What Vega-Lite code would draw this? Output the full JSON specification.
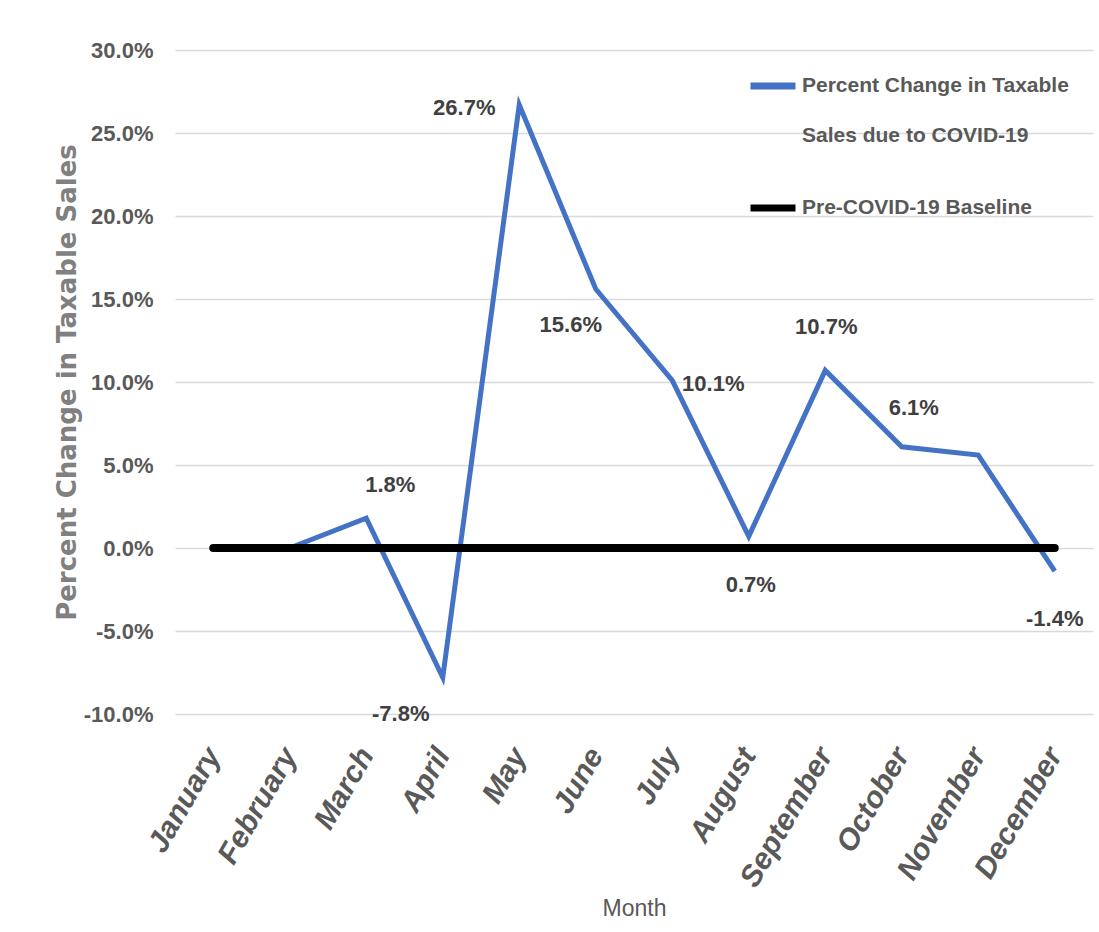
{
  "$schema": "https://vega.github.io/schema/vega-lite/v6.json",
  "autosize": {"type": "none"},
  "width": 918,
  "height": 664,
  "padding": {"left": 175, "top": 50, "right": 6, "bottom": 218},
  "background": "#ffffff",
  "config": {
    "view": {"stroke": null},
    "font": "Liberation Sans, Arial, sans-serif",
    "locale": {
      "number": {"decimal": ".", "thousands": ",", "grouping": [3], "currency": ["$", ""], "minus": "-"}
    }
  },
  "data": {
    "values": [
      {"month": "January", "series": "Pre-COVID-19 Baseline", "value": 0},
      {"month": "February", "series": "Pre-COVID-19 Baseline", "value": 0},
      {"month": "March", "series": "Pre-COVID-19 Baseline", "value": 0},
      {"month": "April", "series": "Pre-COVID-19 Baseline", "value": 0},
      {"month": "May", "series": "Pre-COVID-19 Baseline", "value": 0},
      {"month": "June", "series": "Pre-COVID-19 Baseline", "value": 0},
      {"month": "July", "series": "Pre-COVID-19 Baseline", "value": 0},
      {"month": "August", "series": "Pre-COVID-19 Baseline", "value": 0},
      {"month": "September", "series": "Pre-COVID-19 Baseline", "value": 0},
      {"month": "October", "series": "Pre-COVID-19 Baseline", "value": 0},
      {"month": "November", "series": "Pre-COVID-19 Baseline", "value": 0},
      {"month": "December", "series": "Pre-COVID-19 Baseline", "value": 0},
      {"month": "February", "series": "Percent Change in Taxable Sales due to COVID-19", "value": 0},
      {"month": "March", "series": "Percent Change in Taxable Sales due to COVID-19", "value": 0.018},
      {"month": "April", "series": "Percent Change in Taxable Sales due to COVID-19", "value": -0.078},
      {"month": "May", "series": "Percent Change in Taxable Sales due to COVID-19", "value": 0.267},
      {"month": "June", "series": "Percent Change in Taxable Sales due to COVID-19", "value": 0.156},
      {"month": "July", "series": "Percent Change in Taxable Sales due to COVID-19", "value": 0.101},
      {"month": "August", "series": "Percent Change in Taxable Sales due to COVID-19", "value": 0.007},
      {"month": "September", "series": "Percent Change in Taxable Sales due to COVID-19", "value": 0.107},
      {"month": "October", "series": "Percent Change in Taxable Sales due to COVID-19", "value": 0.061},
      {"month": "November", "series": "Percent Change in Taxable Sales due to COVID-19", "value": 0.056},
      {"month": "December", "series": "Percent Change in Taxable Sales due to COVID-19", "value": -0.014}
    ]
  },
  "encoding": {
    "x": {
      "field": "month",
      "type": "ordinal",
      "sort": ["January", "February", "March", "April", "May", "June", "July", "August", "September", "October", "November", "December"],
      "scale": {"type": "point", "padding": 0.5},
      "axis": {
        "title": "Month",
        "titleFont": "Liberation Sans, Arial, sans-serif",
        "titleFontSize": 23,
        "titleFontWeight": "normal",
        "titleColor": "#595959",
        "titlePadding": 6,
        "labelAngle": -60,
        "labelAlign": "right",
        "labelBaseline": "middle",
        "labelPadding": 36,
        "labelFont": "Liberation Sans, Arial, sans-serif",
        "labelFontSize": 30,
        "labelFontStyle": "italic",
        "labelFontWeight": "bold",
        "labelColor": "#595959",
        "labelLimit": 300,
        "ticks": false,
        "domain": false,
        "grid": false
      }
    },
    "y": {
      "field": "value",
      "type": "quantitative",
      "scale": {"domain": [-0.1, 0.3], "nice": false, "zero": false},
      "axis": {
        "title": "Percent Change in Taxable Sales",
        "titleFont": "DejaVu Sans, sans-serif",
        "titleFontSize": 26,
        "titleFontWeight": "bold",
        "titleColor": "#808080",
        "titlePadding": 3,
        "values": [-0.1, -0.05, 0, 0.05, 0.1, 0.15, 0.2, 0.25, 0.3],
        "format": ".1%",
        "labelFont": "Liberation Sans, Arial, sans-serif",
        "labelFontSize": 22,
        "labelFontWeight": "bold",
        "labelColor": "#595959",
        "labelPadding": 22,
        "ticks": false,
        "domain": false,
        "grid": true,
        "gridColor": "#d9d9d9",
        "gridWidth": 1.5
      }
    }
  },
  "layer": [
    {
      "transform": [{"filter": "datum.series === 'Percent Change in Taxable Sales due to COVID-19'"}],
      "mark": {"type": "line", "strokeWidth": 5, "strokeJoin": "miter"},
      "encoding": {
        "color": {
          "field": "series",
          "type": "nominal",
          "scale": {
            "domain": ["Percent Change in Taxable Sales due to COVID-19", "Pre-COVID-19 Baseline"],
            "range": ["#4472C4", "#000000"]
          },
          "legend": {
            "title": null,
            "orient": "none",
            "legendX": 572,
            "legendY": 10,
            "symbolType": "stroke",
            "symbolSize": 2025,
            "symbolStrokeWidth": 7,
            "labelFont": "Liberation Sans, Arial, sans-serif",
            "labelFontSize": 21,
            "labelFontWeight": "bold",
            "labelColor": "#595959",
            "labelLimit": 400,
            "labelOffset": 3,
            "labelBaseline": "middle",
            "rowPadding": 36,
            "labelExpr": "datum.label === 'Percent Change in Taxable Sales due to COVID-19' ? ['Percent Change in Taxable', 'Sales due to COVID-19'] : datum.label",
            "encode": {"labels": {"update": {"lineHeight": {"value": 50}}}}
          }
        }
      }
    },
    {
      "transform": [{"filter": "datum.series === 'Pre-COVID-19 Baseline'"}],
      "mark": {"type": "line", "strokeWidth": 8, "strokeCap": "round"},
      "encoding": {"color": {"field": "series", "type": "nominal"}}
    },
    {
      "transform": [{"filter": "datum.series !== 'Pre-COVID-19 Baseline' && datum.month === 'March'"}],
      "mark": {"type": "text", "dx": 24, "dy": -33, "fontSize": 22, "fontWeight": "bold", "color": "#404040"},
      "encoding": {"text": {"field": "value", "format": ".1%"}}
    },
    {
      "transform": [{"filter": "datum.series !== 'Pre-COVID-19 Baseline' && datum.month === 'April'"}],
      "mark": {"type": "text", "dx": -42, "dy": 37, "fontSize": 22, "fontWeight": "bold", "color": "#404040"},
      "encoding": {"text": {"field": "value", "format": ".1%"}}
    },
    {
      "transform": [{"filter": "datum.series !== 'Pre-COVID-19 Baseline' && datum.month === 'May'"}],
      "mark": {"type": "text", "dx": -55, "dy": 3, "fontSize": 22, "fontWeight": "bold", "color": "#404040"},
      "encoding": {"text": {"field": "value", "format": ".1%"}}
    },
    {
      "transform": [{"filter": "datum.series !== 'Pre-COVID-19 Baseline' && datum.month === 'June'"}],
      "mark": {"type": "text", "dx": -25, "dy": 36, "fontSize": 22, "fontWeight": "bold", "color": "#404040"},
      "encoding": {"text": {"field": "value", "format": ".1%"}}
    },
    {
      "transform": [{"filter": "datum.series !== 'Pre-COVID-19 Baseline' && datum.month === 'July'"}],
      "mark": {"type": "text", "dx": 41, "dy": 4, "fontSize": 22, "fontWeight": "bold", "color": "#404040"},
      "encoding": {"text": {"field": "value", "format": ".1%"}}
    },
    {
      "transform": [{"filter": "datum.series !== 'Pre-COVID-19 Baseline' && datum.month === 'August'"}],
      "mark": {"type": "text", "dx": 2, "dy": 49, "fontSize": 22, "fontWeight": "bold", "color": "#404040"},
      "encoding": {"text": {"field": "value", "format": ".1%"}}
    },
    {
      "transform": [{"filter": "datum.series !== 'Pre-COVID-19 Baseline' && datum.month === 'September'"}],
      "mark": {"type": "text", "dx": 1, "dy": -43, "fontSize": 22, "fontWeight": "bold", "color": "#404040"},
      "encoding": {"text": {"field": "value", "format": ".1%"}}
    },
    {
      "transform": [{"filter": "datum.series !== 'Pre-COVID-19 Baseline' && datum.month === 'October'"}],
      "mark": {"type": "text", "dx": 12, "dy": -39, "fontSize": 22, "fontWeight": "bold", "color": "#404040"},
      "encoding": {"text": {"field": "value", "format": ".1%"}}
    },
    {
      "transform": [{"filter": "datum.series !== 'Pre-COVID-19 Baseline' && datum.month === 'December'"}],
      "mark": {"type": "text", "dx": 0, "dy": 48, "fontSize": 22, "fontWeight": "bold", "color": "#404040"},
      "encoding": {"text": {"field": "value", "format": ".1%"}}
    }
  ]
}
